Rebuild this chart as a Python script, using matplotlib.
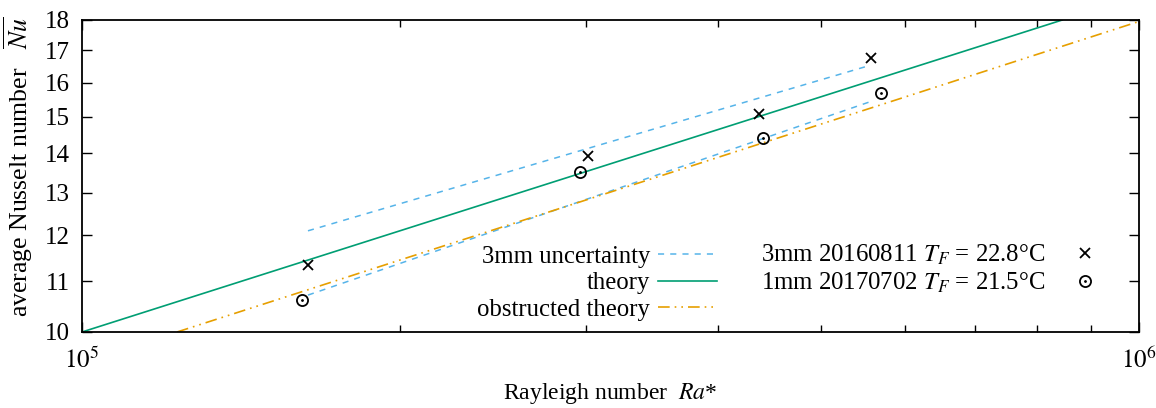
import numpy as np
import matplotlib
matplotlib.use('Agg')
from matplotlib import pyplot as plt
from matplotlib.ticker import FixedLocator, NullFormatter, FixedFormatter
from matplotlib.legend_handler import HandlerTuple

plt.rcParams['font.family'] = ['Liberation Serif', 'DejaVu Serif']
plt.rcParams['mathtext.fontset'] = 'stix'
plt.rcParams['font.size'] = 18

# 3mm 20160811 (crosses)
ra_3mm = [1.635e5, 3.009e5, 4.370e5, 5.578e5]
nu_3mm = [11.35, 13.94, 15.08, 16.77]
# 1mm 20170702 (circles)
ra_1mm = [1.616e5, 2.959e5, 4.408e5, 5.696e5]
nu_1mm = [10.62, 13.51, 14.42, 15.70]

# uncertainty band of the 3mm run
unc_up_ra = [1.636e5, 5.506e5]
unc_up_nu = [12.10, 16.48]
unc_lo_ra = [1.636e5, 5.59e5]
unc_lo_nu = [10.72, 15.45]

# theory lines (straight in log-log)
theory_ra = [1e5, 8.46e5]
theory_nu = [10, 18]
obstr_ra = [1.23e5, 1e6]
obstr_nu = [10, 17.95]

c_blue = '#56b4e9'
c_green = '#009e73'
c_orange = '#e69f00'

fig = plt.figure(figsize=(11.56, 4.08), dpi=100)
ax = fig.add_axes([82/1156, 76/408, (1139-82)/1156, (332-20)/408])
ax.set_xscale('log')
ax.set_yscale('log')
ax.set_xlim(1e5, 1e6)
ax.set_ylim(10, 18)

l_unc, = ax.plot(unc_up_ra, unc_up_nu, color=c_blue, lw=1.1, dashes=(4, 4))
ax.plot(unc_lo_ra, unc_lo_nu, color=c_blue, lw=1.1, dashes=(4, 4))
l_th, = ax.plot(theory_ra, theory_nu, color=c_green, lw=1.2)
l_ob, = ax.plot(obstr_ra, obstr_nu, color=c_orange, lw=1.2, dashes=(7, 3, 1, 3, 1, 3))

m_x, = ax.plot(ra_3mm, nu_3mm, 'x', color='black', ms=7.5, mew=1.3, ls='none')
m_o, = ax.plot(ra_1mm, nu_1mm, 'o', color='black', ms=8, mew=1.3, mfc='none', ls='none')
m_d, = ax.plot(ra_1mm, nu_1mm, '.', color='black', ms=2, ls='none')

# axes ticks
ax.xaxis.set_major_locator(FixedLocator([1e5, 1e6]))
ax.xaxis.set_major_formatter(FixedFormatter(['$10^5$', '$10^6$']))
ax.xaxis.set_minor_locator(FixedLocator([k * 1e5 for k in range(2, 10)]))
ax.xaxis.set_minor_formatter(NullFormatter())
yt = list(range(10, 19))
ax.yaxis.set_major_locator(FixedLocator(yt))
ax.yaxis.set_major_formatter(FixedFormatter([str(v) for v in yt]))
ax.yaxis.set_minor_locator(FixedLocator([]))
ax.tick_params(which='both', direction='in', top=True, right=True, width=1.0, labelsize=18)
ax.tick_params(which='major', length=7)
ax.tick_params(which='minor', length=5)
ax.tick_params(axis='x', pad=11)
ax.tick_params(axis='y', pad=9)
for s in ax.spines.values():
    s.set_linewidth(1.3)

fig.text(18/1156, (408-167)/408, r'average Nusselt number   $\overline{Nu}$',
         rotation=90, ha='center', va='center', fontsize=18.5)
fig.text(610/1156, (408-394)/408, r'Rayleigh number  $Ra$*', ha='center', va='center', fontsize=17)

leg1 = ax.legend([l_unc, l_th, l_ob], ['3mm uncertainty', 'theory', 'obstructed theory'],
                 markerfirst=False, frameon=False, fontsize=17.8, handlelength=2.4,
                 handletextpad=0.3, labelspacing=0.17, borderpad=0, borderaxespad=0,
                 loc='center right', bbox_to_anchor=(717/1156, (408-283)/408),
                 bbox_transform=fig.transFigure)
ax.add_artist(leg1)
ax.legend([m_x, (m_o, m_d)], ['3mm 20160811 $T_F$ = 22.8°C', '1mm 20170702 $T_F$ = 21.5°C'],
          handler_map={tuple: HandlerTuple(ndivide=1)},
          markerfirst=False, frameon=False, fontsize=17.8, handlelength=2.4,
          handletextpad=0.4, labelspacing=0.17, borderpad=0, borderaxespad=0,
          loc='center right', bbox_to_anchor=(1115/1156, (408-269)/408),
          bbox_transform=fig.transFigure)

fig.savefig('out.png', dpi=100)
